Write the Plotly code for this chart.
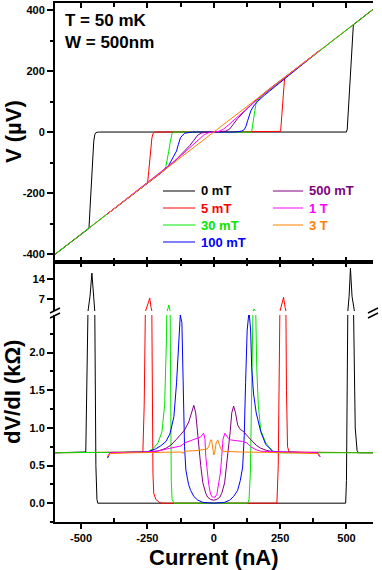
import plotly.graph_objects as go

# ---- I-V curves (top panel): current in nA, voltage in uV ----
I_0mT = [-600, -470, -466, -461, -456, -452, -448, -444, -438, -430, 0, 500, 503, 509, 515, 521, 526, 600]
V_0mT = [-402, -316, -250, -160, -80, -30, -8, -2, -0.5, 0, 0, 0, 10, 100, 200, 300, 352, 402]
I_5mT = [-600, -249, -245, -241, -237, -233, -229, -224, -215, 250, 252, 257, 262, 267, 600]
V_5mT = [-402, -166, -130, -90, -50, -20, -6, -1, 0, 0, 2, 60, 120, 178, 402]
I_30mT = [-600, -185, -180, -175, -170, -165, -161, -157, -150, 138, 143, 147, 151, 155, 160, 170, 190, 600]
V_30mT = [-402, -124, -112, -92, -65, -38, -16, -4, 0, 0, 3, 25, 55, 80, 98, 108, 124, 402]
I_100mT = [-400, -200, -170, -150, -140, -133, -125, -110, -80, 80, 105, 115, 122, 128, 134, 140, 150, 165, 190, 400]
V_100mT = [-268, -134, -110, -80, -62, -40, -18, -4, 0, 0, 3, 8, 20, 38, 55, 70, 85, 100, 120, 268]
I_500mT = [-400, -300, -200, -150, -120, -90, -75, -60, -45, -30, 0, 30, 45, 60, 75, 90, 120, 150, 200, 300, 400]
V_500mT = [-268, -202, -135, -98, -72, -44, -27, -10, -3, -1, 0, 1, 3, 10, 27, 44, 72, 98, 135, 202, 268]
I_1T = [-400, -300, -200, -177, -139, -109, -64, -38, -20, 0, 20, 38, 64, 109, 139, 177, 200, 300, 400]
V_1T = [-268, -200, -132, -116, -89, -66, -30, -10, -2.5, 0, 2.5, 10, 30, 66, 89, 116, 132, 200, 268]
I_3T = [-400, -200, -50, -15, 0, 15, 50, 200, 400]
V_3T = [-268, -134, -34, -10, 0, 10, 34, 134, 268]

# ---- dV/dI curves (bottom panel): current in nA, dV/dI in kOhm ----
Id_0mT = [-600, -482, -474, -466, -459, -453, -448, -444, -440, -437, 0, 497, 500, 505, 510, 515, 521, 527, 533, 540, 545, 600]
R_0mT = [0.67, 0.68, 2.5, 8, 16.1, 8, 2.5, 0.5, 0.05, 0, 0, 0, 0.3, 2.5, 8, 17.8, 8, 2.5, 1.0, 0.7, 0.67, 0.67]
Id_5mT = [-600, -267, -262, -256, -248, -241, -236, -232, -229, -226, -218, -205, -195,
          238, 243, 249, 256, 263, 269, 274, 278, 284, 600]
R_5mT = [0.67, 0.68, 1.3, 3, 6, 7.3, 4, 1.5, 0.4, 0.13, 0.05, 0.01, 0,
         0, 0.5, 2.5, 5.5, 7.6, 4, 1.5, 0.75, 0.68, 0.67]
Id_30mT = [-600, -250, -230, -210, -195, -185, -178, -173, -169, -165, -162, -160, -157, -150,
           128, 133, 138, 143, 148, 152, 157, 162, 168, 177, 196, 222, 240, 600]
R_30mT = [0.67, 0.68, 0.72, 0.8, 0.95, 1.3, 2.2, 3.5, 4.9, 3.0, 1.2, 0.3, 0.05, 0,
          0, 0.05, 0.4, 1.5, 2.8, 3.5, 2.8, 1.8, 1.3, 0.97, 0.8, 0.69, 0.67, 0.67]
Id_100mT = [-400, -390, -250, -220, -200, -180, -165, -150, -140, -133, -126, -120, -116, -110, -105,
            -95, -87, -75, -60, -40, 0, 40, 60, 75, 90, 100, 109, 115, 120, 126, 133, 139, 143,
            150, 160, 177, 196, 222, 250, 390, 400]
R_100mT = [0.6, 0.67, 0.68, 0.72, 0.76, 0.82, 0.92, 1.15, 1.6, 2.1, 2.5, 2.4, 1.5, 0.75, 0.44,
           0.25, 0.17, 0.09, 0.04, 0.01, 0, 0.01, 0.04, 0.09, 0.17, 0.3, 0.48, 0.9, 1.6, 2.3, 2.55, 2.3, 1.8,
           1.45, 1.2, 0.95, 0.78, 0.69, 0.68, 0.67, 0.62]
Id_500mT = [-400, -390, -250, -211, -180, -162, -140, -124, -110, -94, -85, -75, -68, -62, -56, -49,
            -41, -30, -23, -12, 0, 12, 23, 30, 41, 49, 56, 62, 68, 75, 82, 90, 100, 113, 130, 147,
            160, 177, 200, 230, 390, 400]
R_500mT = [0.61, 0.67, 0.68, 0.69, 0.73, 0.77, 0.85, 0.91, 0.97, 1.08, 1.18, 1.3, 1.2, 0.95, 0.7, 0.5,
           0.27, 0.13, 0.08, 0.05, 0.04, 0.05, 0.08, 0.13, 0.27, 0.5, 0.7, 0.95, 1.2, 1.29, 1.2, 1.04,
           0.98, 0.95, 0.88, 0.82, 0.77, 0.73, 0.7, 0.68, 0.67, 0.62]
Id_1T = [-400, -390, -250, -200, -177, -150, -124, -110, -94, -75, -60, -49, -38, -33, -30, -25, -19,
         -12, -5, 0, 5, 12, 19, 25, 30, 35, 42, 48, 55, 64, 85, 109, 125, 139, 160, 177, 250, 390, 400]
R_1T = [0.62, 0.67, 0.68, 0.7, 0.72, 0.74, 0.76, 0.8, 0.82, 0.84, 0.86, 0.88, 0.93, 0.85, 0.62, 0.4,
        0.25, 0.12, 0.08, 0.08, 0.08, 0.12, 0.25, 0.4, 0.62, 0.85, 0.93, 0.9, 0.86, 0.84, 0.83, 0.82,
        0.8, 0.75, 0.71, 0.69, 0.68, 0.67, 0.62]
Id_3T = [-400, -390, -300, -200, -120, -117, -110, -60, -35, -25, -18, -12, -8, -4, 0, 4, 9, 15, 20,
         27, 34, 100, 200, 300, 390, 400]
R_3T = [0.62, 0.66, 0.67, 0.68, 0.68, 0.66, 0.69, 0.7, 0.71, 0.72, 0.76, 0.84, 0.84, 0.72, 0.64, 0.68,
        0.8, 0.84, 0.8, 0.72, 0.69, 0.68, 0.675, 0.67, 0.66, 0.64]

labels = ["0 mT", "5 mT", "30 mT", "100 mT", "500 mT", "1 T", "3 T"]
colors = ["#000000", "#ff0000", "#00e600", "#0000ff", "#800080", "#ff00ff", "#ff8000"]

x_ticks = [-500, -250, 0, 250, 500]
x_tick_labels = ["-500", "-250", "0", "250", "500"]
x_minor = [-375, -125, 125, 375]
v_ticks = [-400, -200, 0, 200, 400]
v_tick_labels = ["-400", "-200", "0", "200", "400"]
v_minor = [-300, -100, 100, 300]
r_hi_ticks = [7, 14]
r_lo_ticks = [0, 0.5, 1.0, 1.5, 2.0]
r_lo_tick_labels = ["0.0", "0.5", "1.0", "1.5", "2.0"]
r_lo_minor = [-0.25, 0.25, 0.75, 1.25, 1.75, 2.25]

iv = [(I_0mT, V_0mT), (I_5mT, V_5mT), (I_30mT, V_30mT), (I_100mT, V_100mT),
      (I_500mT, V_500mT), (I_1T, V_1T), (I_3T, V_3T)]
didv = [(Id_0mT, R_0mT), (Id_5mT, R_5mT), (Id_30mT, R_30mT), (Id_100mT, R_100mT),
        (Id_500mT, R_500mT), (Id_1T, R_1T), (Id_3T, R_3T)]

# page geometry
W, H = 382, 570
L, R, T, B = 55, 9, 3, 48
PW, PH = W - L - R, H - T - B


def px(x):
    return (x - L) / PW


def py(y):
    return (H - B - y) / PH


fig = go.Figure()

for k in range(len(labels)):
    line = dict(color=colors[k], width=1)
    fig.add_trace(go.Scatter(x=iv[k][0], y=iv[k][1], mode="lines", line=line,
                             xaxis="x2", yaxis="y", showlegend=False, name=labels[k]))
    fig.add_trace(go.Scatter(x=didv[k][0], y=didv[k][1], mode="lines", line=line,
                             xaxis="x3", yaxis="y2", showlegend=False, name=labels[k]))
    fig.add_trace(go.Scatter(x=didv[k][0], y=didv[k][1], mode="lines", line=line,
                             xaxis="x", yaxis="y3", showlegend=False, name=labels[k]))

FONT = "Arial, Liberation Sans, sans-serif"
tickfont = dict(family=FONT, size=11, color="black", weight="bold")
frame = dict(showline=True, linecolor="black", linewidth=2, showgrid=False, zeroline=False,
             tickcolor="black", tickwidth=1.5, tickfont=tickfont, automargin=False)
XR = [-598, 600]
YR_IV = [-426, 423]
YR_HI = [2.8, 20]
YR_LO = [-0.25, 2.5]


def minor(side, n, vals):
    return dict(ticks=side, ticklen=n, tickwidth=1.5, tickcolor="black", tickmode="array", tickvals=vals)


fig.update_layout(
    width=W, height=H,
    margin=dict(l=L, r=R, t=T, b=B, autoexpand=False),
    paper_bgcolor="white", plot_bgcolor="white",
    font=dict(family=FONT, color="black"),
    showlegend=False,
    xaxis=dict(frame, range=XR, anchor="y3", domain=[0, 1], ticks="outside", ticklen=5,
               tickmode="array", tickvals=x_ticks, ticktext=x_tick_labels,
               minor=minor("inside", 4, x_minor)),
    xaxis2=dict(frame, range=XR, anchor="y", domain=[0, 1], ticks="inside", ticklen=5,
                mirror="ticks", showticklabels=False, tickmode="array", tickvals=x_ticks,
                minor=minor("inside", 4, x_minor)),
    xaxis3=dict(frame, range=XR, anchor="y2", side="top", domain=[0, 1], ticks="inside", ticklen=5,
                showticklabels=False, tickmode="array", tickvals=x_ticks,
                minor=minor("inside", 4, x_minor)),
    yaxis=dict(frame, range=YR_IV, anchor="x2", domain=[py(262), 1], ticks="outside", ticklen=6,
               tickmode="array", tickvals=v_ticks, ticktext=v_tick_labels,
               minor=minor("outside", 3, v_minor)),
    yaxis4=dict(frame, range=YR_IV, anchor="x2", overlaying="y", side="right", ticks="inside",
                ticklen=5, showticklabels=False, tickmode="array", tickvals=v_ticks,
                minor=minor("inside", 5, v_minor)),
    yaxis2=dict(frame, range=YR_HI, anchor="x3", domain=[py(311), py(262)], ticks="outside", ticklen=6,
                tickmode="array", tickvals=r_hi_ticks),
    yaxis5=dict(frame, range=YR_HI, anchor="x3", overlaying="y2", side="right", ticks="inside",
                ticklen=5, showticklabels=False, tickmode="array", tickvals=r_hi_ticks),
    yaxis3=dict(frame, range=YR_LO, anchor="x", domain=[0, py(315)], ticks="outside", ticklen=6,
                tickmode="array", tickvals=r_lo_ticks, ticktext=r_lo_tick_labels,
                minor=minor("outside", 3, r_lo_minor)),
    yaxis6=dict(frame, range=YR_LO, anchor="x", overlaying="y3", side="right", ticks="inside",
                ticklen=5, showticklabels=False, tickmode="array", tickvals=r_lo_ticks,
                minor=minor("inside", 5, r_lo_minor)),
)

ann = []
title_font = dict(family=FONT, size=22, color="black", weight="bold")
ann.append(dict(text="V (µV)", x=px(13), y=py(132), textangle=-90, font=title_font))
ann.append(dict(text="dV/dI (kΩ)", x=px(13), y=py(392), textangle=-90, font=title_font))
ann.append(dict(text="Current (nA)", x=px(214), y=py(557), font=title_font))
info_font = dict(family=FONT, size=17, color="black", weight="bold")
ann.append(dict(text="T = 50 mK", x=px(63), y=py(21), xanchor="left", font=info_font))
ann.append(dict(text="W = 500nm", x=px(63), y=py(42), xanchor="left", font=info_font))

# hand-made two-column legend
shapes = []
legend_slots = [(163, 195, 199, 191), (163, 195, 199, 208), (163, 195, 199, 225), (163, 195, 199, 242),
                (273, 303, 307, 191), (273, 303, 307, 208), (273, 303, 307, 225)]
leg_font = dict(family=FONT, size=13, weight="bold")
for k, (x0, x1, xt, yr) in enumerate(legend_slots):
    shapes.append(dict(type="line", xref="paper", yref="paper", x0=px(x0), x1=px(x1),
                       y0=py(yr), y1=py(yr), line=dict(color=colors[k], width=1)))
    ann.append(dict(text=labels[k], x=px(xt), y=py(yr), xanchor="left",
                    font=dict(leg_font, color=colors[k])))

# axis break marks
for xc in (L, L + PW):
    for yc in (310.5, 315.5):
        shapes.append(dict(type="line", xref="paper", yref="paper",
                           x0=px(xc - 5), y0=py(yc + 2.5), x1=px(xc + 5), y1=py(yc - 2.5),
                           line=dict(color="black", width=1.5)))

for a in ann:
    a.setdefault("xref", "paper")
    a.setdefault("yref", "paper")
    a.setdefault("xanchor", "center")
    a.setdefault("yanchor", "middle")
    a.setdefault("showarrow", False)
fig.update_layout(annotations=ann, shapes=shapes)

# page body has a default 8px margin; drop it so the figure sits at the window corner
fig.write_html("out.html", config={"displayModeBar": False},
               post_script="document.body.style.margin='0';")
